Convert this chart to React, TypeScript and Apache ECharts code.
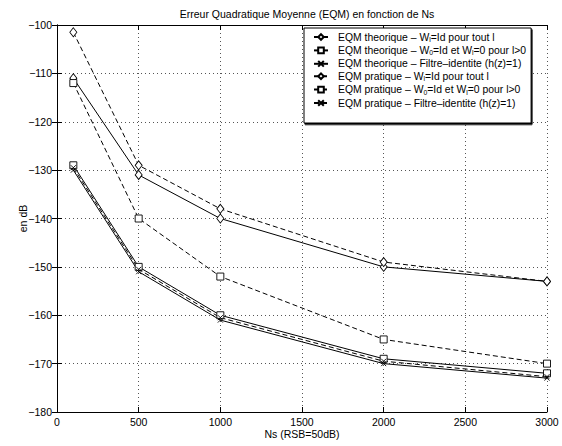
import React, { useEffect, useRef } from "react";
import * as echarts from "echarts";

const nsValues = [100, 500, 1000, 2000, 3000];
const theoWl = [-111, -131, -140, -150, -153];
const theoW0 = [-129, -150, -160, -169, -172];
const theoFiltre = [-130, -151, -161, -170, -173];
const pratWl = [-101.5, -129, -138, -149, -153];
const pratW0 = [-112, -140, -152, -165, -170];
const pratFiltre = [-129.5, -150.5, -160.5, -169.5, -172.7];

const seriesNames = [
  "EQM theorique – Wl=Id pour tout l",
  "EQM theorique – W0=Id et Wl=0 pour l>0",
  "EQM theorique – Filtre–identite (h(z)=1)",
  "EQM pratique – Wl=Id pour tout l",
  "EQM pratique – W0=Id et Wl=0 pour l>0",
  "EQM pratique – Filtre–identite (h(z)=1)",
];
const richLabels = [
  "{n|EQM theorique – W}{s|l}{n|=Id pour tout l}",
  "{n|EQM theorique – W}{s|0}{n|=Id et W}{s|l}{n|=0 pour l>0}",
  "{n|EQM theorique – Filtre–identite (h(z)=1)}",
  "{n|EQM pratique – W}{s|l}{n|=Id pour tout l}",
  "{n|EQM pratique – W}{s|0}{n|=Id et W}{s|l}{n|=0 pour l>0}",
  "{n|EQM pratique – Filtre–identite (h(z)=1)}",
];
const seriesValues = [theoWl, theoW0, theoFiltre, pratWl, pratW0, pratFiltre];
const X_PATH = "path://M0 0L10 10M10 0L0 10";
const seriesSymbols = ["diamond", "rect", X_PATH, "diamond", "rect", X_PATH];
const seriesSymbolSizes: any[] = [[7, 9], 7, 5, [7, 9], 7, 5];
const seriesDashed = [false, false, false, true, true, true];

const FONT = "Liberation Sans, Arial, Helvetica, sans-serif";
const FS = 10.5;

export default function App() {
  const ref = useRef<HTMLDivElement>(null);
  useEffect(() => {
    if (!ref.current) return;
    const chart = echarts.init(ref.current, undefined, { renderer: "svg" });
    const series = seriesValues.map((vals, i) => ({
      name: seriesNames[i],
      type: "line",
      xAxisIndex: 0,
      yAxisIndex: 0,
      data: nsValues.map((x, j) => [x, vals[j]]),
      symbol: seriesSymbols[i],
      symbolSize: seriesSymbolSizes[i],
      showSymbol: true,
      color: "#000",
      lineStyle: { color: "#000", width: 1, type: seriesDashed[i] ? [5, 3] : "solid" },
      itemStyle: { color: "#fff", borderColor: "#000", borderWidth: 0.9 },
      emphasis: { disabled: true },
      z: 2,
    }));
    const gridLine = { show: true, lineStyle: { color: "#555", width: 1, type: [1, 3] } };
    const option: any = {
      animation: false,
      backgroundColor: "#fff",
      textStyle: { fontFamily: FONT },
      title: {
        text: "Erreur Quadratique Moyenne (EQM) en fonction de Ns",
        left: 302,
        top: 3,
        textAlign: "center",
        textStyle: { fontFamily: FONT, fontSize: FS, fontWeight: "normal", color: "#000" },
      },
      grid: { left: 57, right: 15, top: 25, bottom: 34, containLabel: false },
      xAxis: [
        {
          type: "value",
          min: 0,
          max: 3000,
          interval: 500,
          position: "bottom",
          name: "Ns (RSB=50dB)",
          nameLocation: "middle",
          nameGap: 16,
          nameMoveOverlap: false,
          nameTextStyle: { fontFamily: FONT, fontSize: FS, color: "#000", lineHeight: 11 },
          axisLine: { show: true, lineStyle: { color: "#000", width: 1 } },
          axisTick: { show: true, inside: true, length: 5, lineStyle: { color: "#000" } },
          axisLabel: {
            color: "#000",
            fontSize: FS,
            fontFamily: FONT,
            margin: 4,
            lineHeight: 11,
            formatter: (v: number) => String(v),
          },
          splitLine: gridLine,
        },
        {
          type: "value",
          min: 0,
          max: 3000,
          interval: 500,
          position: "top",
          axisLine: { show: true, lineStyle: { color: "#000", width: 1 } },
          axisTick: { show: true, inside: true, length: 5, lineStyle: { color: "#000" } },
          axisLabel: { show: false },
          splitLine: { show: false },
        },
      ],
      yAxis: [
        {
          type: "value",
          min: -180,
          max: -100,
          interval: 10,
          position: "left",
          name: "en dB",
          nameLocation: "middle",
          nameRotate: 90,
          nameGap: 29,
          nameMoveOverlap: false,
          nameTextStyle: { fontFamily: FONT, fontSize: FS, color: "#000" },
          axisLine: { show: true, lineStyle: { color: "#000", width: 1 } },
          axisTick: { show: true, inside: true, length: 5, lineStyle: { color: "#000" } },
          axisLabel: {
            color: "#000",
            fontSize: FS,
            fontFamily: FONT,
            margin: 5,
            formatter: (v: number) => String(v).replace("-", "\u2212"),
          },
          splitLine: gridLine,
        },
        {
          type: "value",
          min: -180,
          max: -100,
          interval: 10,
          position: "right",
          axisLine: { show: true, lineStyle: { color: "#000", width: 1 } },
          axisTick: { show: true, inside: true, length: 5, lineStyle: { color: "#000" } },
          axisLabel: { show: false },
          splitLine: { show: false },
        },
      ],
      legend: {
        show: true,
        orient: "vertical",
        left: 304,
        top: 28,
        z: 10,
        data: seriesNames,
        itemWidth: 14,
        itemHeight: 7,
        itemGap: 2.4,
        padding: [4, 5, 15, 9],
        backgroundColor: "#fff",
        borderColor: "#000",
        borderWidth: 1,
        borderRadius: 0,
        shadowColor: "#000",
        shadowBlur: 0,
        shadowOffsetX: 1,
        shadowOffsetY: 1.5,
        selectedMode: false,
        formatter: (name: string) => richLabels[seriesNames.indexOf(name)],
        textStyle: {
          fontFamily: FONT,
          fontSize: 10.4,
          color: "#000",
          padding: [0, 0, 0, 5],
          rich: {
            n: { fontFamily: FONT, fontSize: 10.4, color: "#000", lineHeight: 12 },
            s: { fontFamily: FONT, fontSize: 6.8, color: "#000", lineHeight: 7, verticalAlign: "bottom" },
          },
        },
      },
      series,
    };
    chart.setOption(option);
    return () => chart.dispose();
  }, []);
  return (
    <div
      ref={ref}
      style={{ position: "fixed", left: 0, top: 0, width: 562, height: 446, background: "#fff" }}
    />
  );
}
